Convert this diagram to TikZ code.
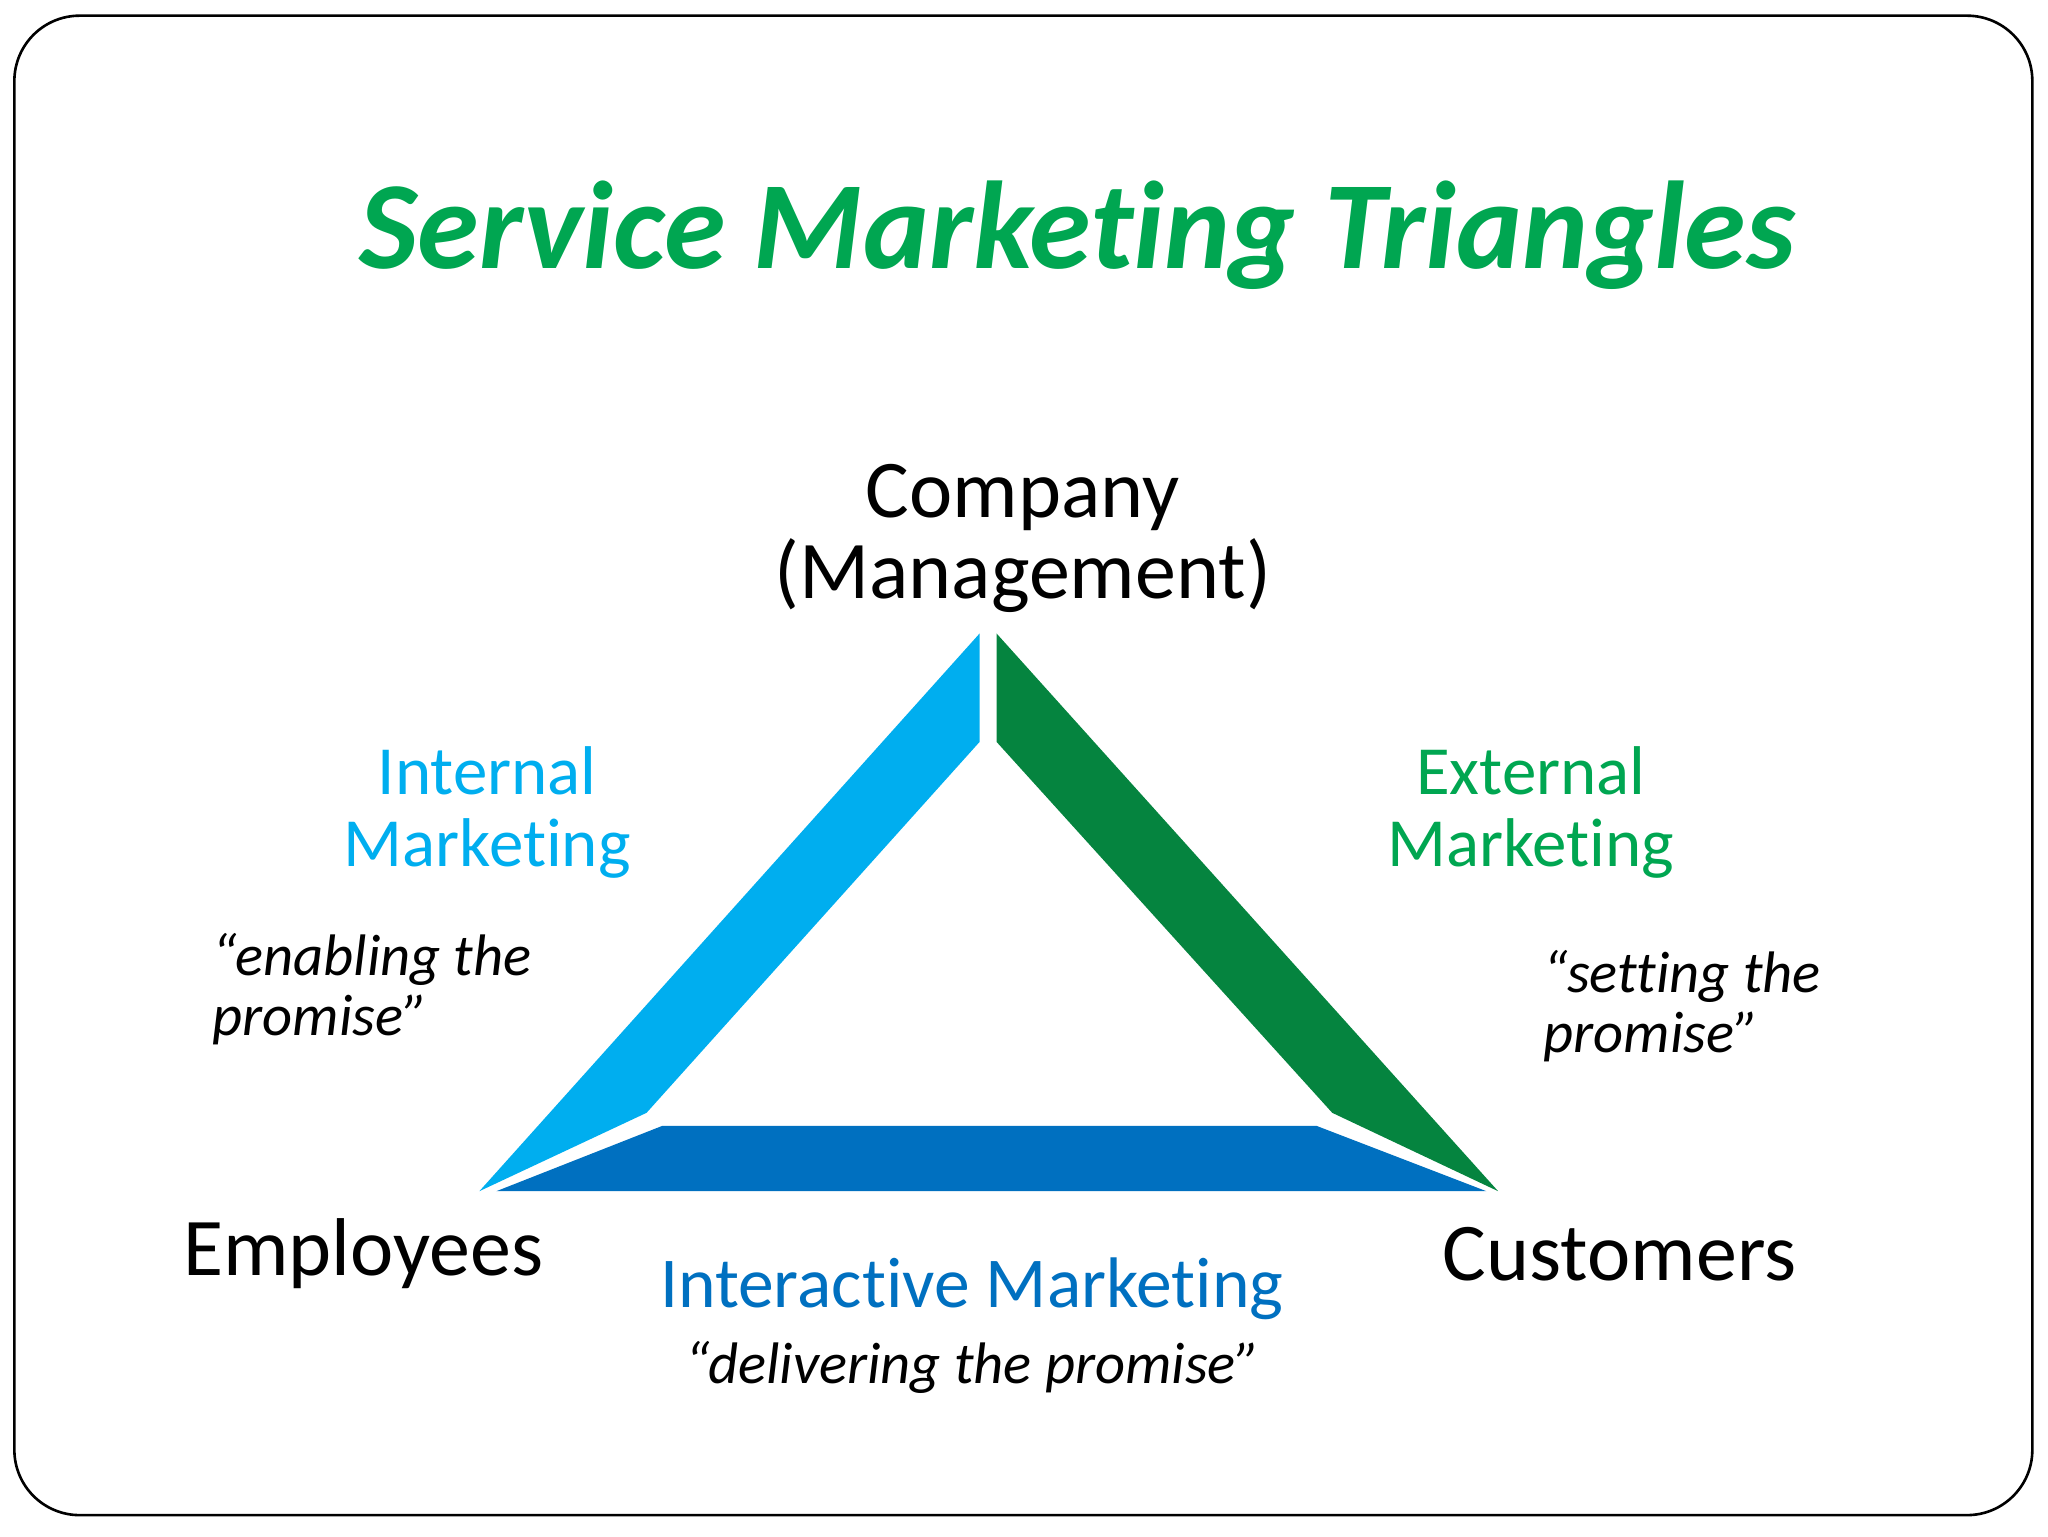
\documentclass[tikz,border=0pt]{standalone}
\usepackage{fontspec}
\setmainfont[Ligatures=NoCommon]{Carlito}
\definecolor{lblue}{HTML}{00AEEF}
\definecolor{dgreen}{HTML}{05843F}
\definecolor{mblue}{HTML}{0070C0}
\definecolor{tgreen}{HTML}{00A651}
\begin{document}
\begin{tikzpicture}[x=1bp,y=-1bp,
  lbl/.style={align=center,font=\fontsize{63}{62}\selectfont,text=black},
  head/.style={align=center,font=\fontsize{53}{56}\selectfont},
  quote/.style={align=left,font=\fontsize{45}{46}\itshape\selectfont},
  every node/.style={inner sep=0pt}]
\useasboundingbox (0,0) rectangle (1568,1176);
\draw[line width=2bp,rounded corners=50bp] (11,12) rectangle (1556,1160);
\node[font=\fontsize{96}{100}\bfseries\itshape\selectfont,text=tgreen] (title) at (825,180) {Service Marketing Triangles};
\fill[lblue] (750,485) -- (750,568) -- (495,852) -- (367,912) -- cycle;
\fill[dgreen] (763,485) -- (1147,912) -- (1020,852) -- (763,568) -- cycle;
\fill[mblue] (380,912) -- (1138,912) -- (1008,862) -- (507,862) -- cycle;
\node[lbl] (comp) at (783,412) {Company\\(Management)};
\node[lbl] (emp) at (278,960) {Employees};
\node[lbl] (cus) at (1240,960) {Customers};
\node[head,text=lblue] (im) at (373,622) {Internal\\Marketing};
\node[head,text=tgreen] (em) at (1172,622) {External\\Marketing};
\node[quote] (q1) at (285,757) {“enabling the\\promise”};
\node[quote] (q2) at (1288,770) {“setting the\\promise”};
\node[font=\fontsize{55}{56}\selectfont,text=mblue] (ia) at (744,987) {Interactive Marketing};
\node[font=\fontsize{45}{46}\itshape\selectfont] (q3) at (745,1047) {“delivering the promise”};
\end{tikzpicture}
\end{document}
